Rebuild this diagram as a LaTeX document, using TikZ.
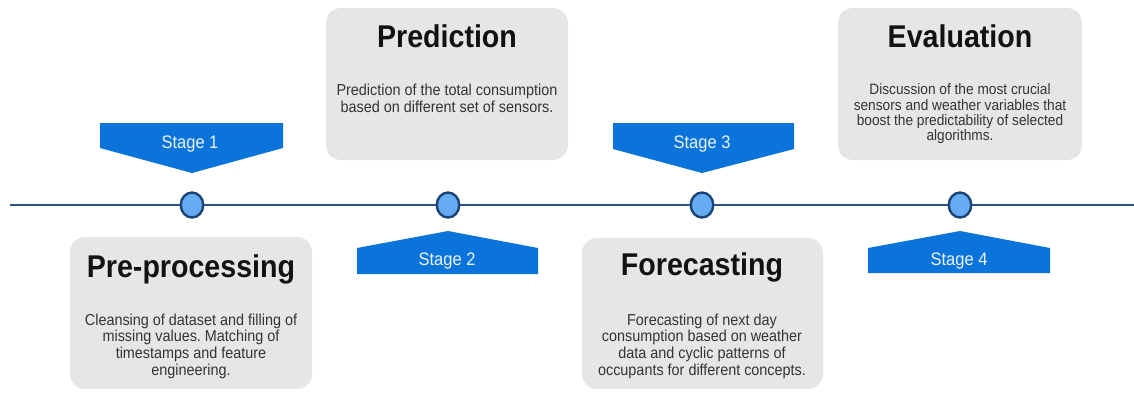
\documentclass[tikz,border=0pt]{standalone}
\usepackage{fontspec}
\usepackage{graphicx}
\setmainfont{Liberation Sans}
\frenchspacing
\usetikzlibrary{shapes.geometric}

\definecolor{bannerblue}{RGB}{10,116,218}
\definecolor{bannertext}{RGB}{236,243,252}
\definecolor{dotfill}{RGB}{102,172,242}
\definecolor{dotedge}{RGB}{26,68,118}
\definecolor{linecol}{RGB}{44,82,136}
\definecolor{cardfill}{RGB}{230,230,230}
\definecolor{titlecol}{RGB}{18,18,18}
\definecolor{bodycol}{RGB}{52,52,52}

% text drawn slightly taller than wide
\newcommand{\tallbox}[1]{\scalebox{1}[1.1]{\begin{tabular}{@{}c@{}}#1\end{tabular}}}

\tikzset{
  card/.style={fill=cardfill, rounded corners=15pt, inner sep=0pt},
  cardtitle/.style={inner sep=0pt, text=titlecol, font=\fontsize{28.6}{32}\selectfont\bfseries},
  cardbody/.style={inner sep=0pt, text=bodycol, font=\fontsize{14.4}{15.2}\selectfont},
  cardbodysmall/.style={inner sep=0pt, text=bodycol, font=\fontsize{13.7}{13.6}\selectfont},
  banner/.style={fill=bannerblue, draw=none},
  bannerlabel/.style={inner sep=0pt, text=bannertext, font=\fontsize{16.5}{18}\selectfont},
  stagedot/.style={ellipse, draw=dotedge, line width=2.4pt, fill=dotfill,
    minimum width=22.5pt, minimum height=25pt, inner sep=0pt},
  timeline/.style={draw=linecol, line width=2.2pt}
}

\begin{document}
\begin{tikzpicture}[x=1pt, y=-1pt]
\useasboundingbox (0,0) rectangle (1134,392);

% ---- cards ----
\path[card] (70,237) rectangle (312,389);
\path[card] (326,8) rectangle (568,160);
\path[card] (582,238) rectangle (823,389);
\path[card] (838,8) rectangle (1082,160);

\node[cardtitle] (t1) at (191,270.5) {\tallbox{Pre-processing}};
\node[cardbody] (d1) at (191,347) {\tallbox{Cleansing of dataset and filling of\\missing values. Matching of\\timestamps and feature\\engineering.}};

\node[cardtitle] (t2) at (447,40.5) {\tallbox{Prediction}};
\node[cardbody] (d2) at (447,100.5) {\tallbox{Prediction of the total consumption\\based on different set of sensors.}};

\node[cardtitle] (t3) at (702,268.5) {\tallbox{Forecasting}};
\node[cardbody] (d3) at (702,347) {\tallbox{Forecasting of next day\\consumption based on weather\\data and cyclic patterns of\\occupants for different concepts.}};

\node[cardtitle] (t4) at (960,40.5) {\tallbox{Evaluation}};
\node[cardbodysmall] (d4) at (960,114.5) {\tallbox{Discussion of the most crucial\\sensors and weather variables that\\boost the predictability of selected\\algorithms.}};

% ---- stage banners ----
\path[banner] (100,123) -- (283,123) -- (283,148) -- (192,173) -- (100,148) -- cycle;
\node[bannerlabel] (s1) at (190,145) {\tallbox{Stage 1}};

\path[banner] (357,274) -- (538,274) -- (538,248) -- (448,231) -- (357,248) -- cycle;
\node[bannerlabel] (s2) at (447,262) {\tallbox{Stage 2}};

\path[banner] (613,123) -- (794,123) -- (794,149) -- (702,173) -- (613,149) -- cycle;
\node[bannerlabel] (s3) at (702,145) {\tallbox{Stage 3}};

\path[banner] (868,273) -- (1050,273) -- (1050,248) -- (960,231) -- (868,248) -- cycle;
\node[bannerlabel] (s4) at (959,262) {\tallbox{Stage 4}};

% ---- timeline ----
\coordinate (start) at (10,205);
\coordinate (end) at (1134,205);
\node[stagedot] (p1) at (192,205) {};
\node[stagedot] (p2) at (448,205) {};
\node[stagedot] (p3) at (702,205) {};
\node[stagedot] (p4) at (960,205) {};

\draw[timeline] (start) -- (p1) (p1) -- (p2) (p2) -- (p3) (p3) -- (p4) (p4) -- (end);
\end{tikzpicture}
\end{document}
